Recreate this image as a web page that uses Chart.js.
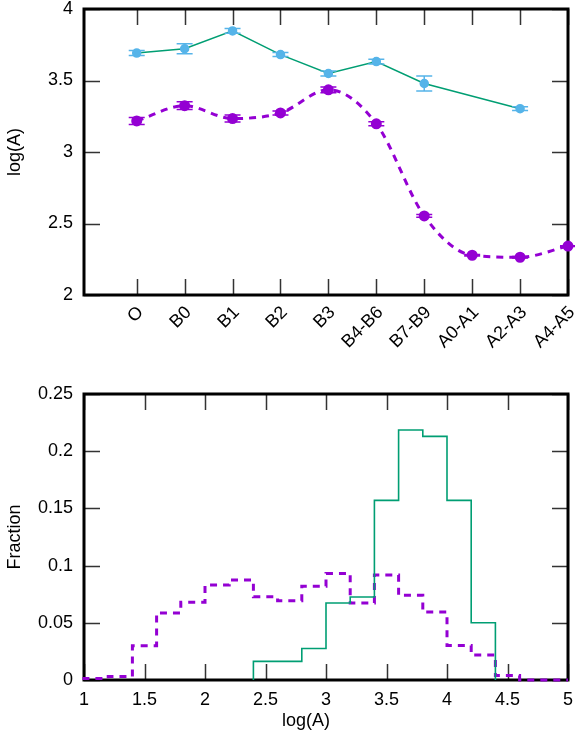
<!DOCTYPE html>
<html>
<head>
<meta charset="utf-8">
<script src="https://cdn.jsdelivr.net/npm/chart.js@4"></script>
<style>
  body { margin: 0; background: #fff; }
  #wrap { width: 575px; height: 742px; position: relative; }
  canvas { display: block; }
</style>
</head>
<body>
<div id="wrap">
  <canvas id="tiposEspectrales" width="575" height="375"></canvas>
  <canvas id="histograma" width="575" height="367"></canvas>
</div>
<script>
// tipos espectrales (eje x del panel superior)
const spectralTypes = ['O', 'B0', 'B1', 'B2', 'B3', 'B4-B6', 'B7-B9', 'A0-A1', 'A2-A3', 'A4-A5'];
// log(A) medio por tipo y su error
const logA1 = [3.692, 3.722, 3.847, 3.681, 3.549, 3.632, 3.479, null, 3.303, null];
const errA1 = [0.017, 0.035, 0.016, 0.014, 0.018, 0.017, 0.052, null, 0.013, null];
const logA2 = [3.217, 3.324, 3.234, 3.273, 3.435, 3.197, 2.553, 2.278, 2.264, 2.342];
const errA2 = [0.025, 0.027, 0.025, 0.014, 0.02, 0.014, 0.01, 0.005, 0.005, 0.003];

// histograma: borde izquierdo de cada bin (ancho 0.2)
const binWidth = 0.2;
const binEdges = [1.0, 1.2, 1.4, 1.6, 1.8, 2.0, 2.2, 2.4, 2.6, 2.8, 3.0, 3.2, 3.4, 3.6, 3.8, 4.0, 4.2, 4.4, 4.6, 4.8];
const frac1 = [null, null, null, null, null, null, null, 0.0163, 0.0163, 0.0276, 0.0673, 0.0726, 0.157, 0.2185, 0.213, 0.157, 0.0501, null, null, null];
const frac2 = [0.0014, 0.0031, 0.030, 0.0586, 0.068, 0.083, 0.0874, 0.0728, 0.0693, 0.082, 0.0932, 0.0673, 0.0918, 0.074, 0.0594, 0.0302, 0.0218, 0.004, 0, 0];

const verde = '#009e73';
const celeste = '#56b4e9';
const violeta = '#9400d3';
const familia = "'Liberation Sans', Arial, sans-serif";
const fuente = { family: familia, size: 18 };
const fuenteTitulo = { family: familia, size: 18 };
Chart.defaults.color = '#000';

// puntos con x numérica, saltando los huecos
function puntos(valores) {
    return valores.map((v, i) => ({ x: i, y: v })).filter(p => p.y !== null);
}

// escalones del histograma a partir de los bins
function escalones(valores) {
    const pts = [];
    let ultimo = null;
    valores.forEach((v, i) => {
        if (v === null) return;
        if (!pts.length) pts.push({ x: binEdges[i], y: 0 });
        pts.push({ x: binEdges[i], y: v });
        ultimo = i;
    });
    pts.push({ x: +(binEdges[ultimo] + binWidth).toFixed(1), y: 0 });
    return pts;
}

// quitar el relleno automático de las escalas
function sinPadding(scale) {
    scale.paddingLeft = 0;
    scale.paddingRight = 0;
    scale.paddingTop = 0;
    scale.paddingBottom = 0;
}

// marco negro y marcas hacia adentro, estilo gnuplot
const marco = {
    id: 'marco',
    beforeDatasetsDraw(chart) {
        const { ctx, chartArea: a, scales } = chart;
        const largo = 16;
        ctx.save();
        ctx.strokeStyle = '#333';
        ctx.lineWidth = 1.5;
        ctx.beginPath();
        scales.x.ticks.forEach(t => {
            const px = Math.round(scales.x.getPixelForValue(t.value)) + 0.5;
            ctx.moveTo(px, a.bottom); ctx.lineTo(px, a.bottom - largo);
            ctx.moveTo(px, a.top); ctx.lineTo(px, a.top + largo);
        });
        scales.y.ticks.forEach(t => {
            const py = Math.round(scales.y.getPixelForValue(t.value)) + 0.5;
            ctx.moveTo(a.left, py); ctx.lineTo(a.left + largo, py);
            ctx.moveTo(a.right, py); ctx.lineTo(a.right - largo, py);
        });
        ctx.stroke();
        ctx.strokeStyle = '#000';
        ctx.lineWidth = 3;
        ctx.strokeRect(a.left, a.top, a.width, a.height);
        ctx.restore();
    }
};

// barras de error verticales con tapas
const barrasError = {
    id: 'barrasError',
    afterDatasetsDraw(chart) {
        const { ctx, scales } = chart;
        chart.data.datasets.forEach(ds => {
            if (!ds.errores) return;
            ctx.save();
            ctx.strokeStyle = ds.pointBackgroundColor;
            ctx.lineWidth = 1.5;
            ds.fuente.forEach((v, i) => {
                if (v === null) return;
                const e = ds.errores[i];
                const px = scales.x.getPixelForValue(i);
                const y1 = scales.y.getPixelForValue(v - e);
                const y2 = scales.y.getPixelForValue(v + e);
                ctx.beginPath();
                ctx.moveTo(px, y1); ctx.lineTo(px, y2);
                ctx.moveTo(px - 8, y1); ctx.lineTo(px + 8, y1);
                ctx.moveTo(px - 8, y2); ctx.lineTo(px + 8, y2);
                ctx.stroke();
            });
            ctx.restore();
        });
    }
};

// título del eje x del histograma (centrado en la figura, no en el área)
const tituloX = {
    id: 'tituloX',
    afterDraw(chart, args, opts) {
        const { ctx } = chart;
        ctx.save();
        ctx.font = `${fuenteTitulo.size}px ${familia}`;
        ctx.fillStyle = '#000';
        ctx.textAlign = 'center';
        ctx.textBaseline = 'middle';
        ctx.fillText(opts.text, opts.x, opts.y);
        ctx.restore();
    }
};

const sinRejilla = { display: false, drawTicks: false };

/* panel superior: log(A) por tipo espectral */
new Chart(document.getElementById('tiposEspectrales'), {
    type: 'line',
    data: {
        datasets: [{
            data: puntos(logA1),
            fuente: logA1,
            errores: errA1,
            borderColor: verde,
            borderWidth: 1.5,
            pointBackgroundColor: celeste,
            pointBorderColor: celeste,
            pointRadius: 4,
            tension: 0,
            clip: false
        }, {
            data: puntos(logA2),
            fuente: logA2,
            errores: errA2,
            borderColor: violeta,
            borderWidth: 3,
            borderDash: [7, 6],
            pointBackgroundColor: violeta,
            pointBorderColor: violeta,
            pointRadius: 4,
            cubicInterpolationMode: 'monotone',
            clip: false
        }]
    },
    options: {
        responsive: false,
        animation: false,
        devicePixelRatio: 1,
        layout: { padding: { top: 9, right: 7, bottom: 0, left: 0 } },
        plugins: { legend: { display: false }, tooltip: { enabled: false } },
        scales: {
            x: {
                type: 'linear',
                min: -1.1,
                max: 9,
                grid: sinRejilla,
                border: { display: false },
                afterBuildTicks: scale => {
                    scale.ticks = spectralTypes.map((_, i) => ({ value: i }));
                },
                afterFit: scale => { scale.height = 80; sinPadding(scale); },
                ticks: {
                    autoSkip: false,
                    minRotation: 45,
                    maxRotation: 45,
                    padding: 7,
                    labelOffset: 4,
                    font: fuente,
                    callback: v => spectralTypes[v]
                }
            },
            y: {
                min: 2,
                max: 4,
                grid: sinRejilla,
                border: { display: false },
                afterFit: scale => { scale.width = 84; sinPadding(scale); },
                ticks: {
                    stepSize: 0.5,
                    padding: 11,
                    font: fuente,
                    callback: v => String(+v.toFixed(2))
                },
                title: { display: true, text: 'log(A)', font: fuenteTitulo, padding: { top: 4, bottom: 0 } }
            }
        }
    },
    plugins: [marco, barrasError]
});

/* panel inferior: distribución de log(A) */
new Chart(document.getElementById('histograma'), {
    type: 'line',
    data: {
        datasets: [{
            data: escalones(frac1),
            borderColor: verde,
            borderWidth: 1.6,
            stepped: 'before',
            pointRadius: 0,
            clip: false
        }, {
            data: escalones(frac2),
            borderColor: violeta,
            borderWidth: 3,
            borderDash: [7, 6],
            stepped: 'before',
            pointRadius: 0,
            clip: false
        }]
    },
    options: {
        responsive: false,
        animation: false,
        devicePixelRatio: 1,
        layout: { padding: { top: 19, right: 7, bottom: 0, left: 0 } },
        plugins: {
            legend: { display: false },
            tooltip: { enabled: false },
            tituloX: { text: 'log(A)', x: 306, y: 346 }
        },
        scales: {
            x: {
                type: 'linear',
                min: 1,
                max: 5,
                grid: sinRejilla,
                border: { display: false },
                afterFit: scale => { scale.height = 62; sinPadding(scale); },
                ticks: {
                    stepSize: 0.5,
                    padding: 9,
                    maxRotation: 0,
                    font: fuente,
                    callback: v => String(+v.toFixed(2))
                }
            },
            y: {
                min: 0,
                max: 0.25,
                grid: sinRejilla,
                border: { display: false },
                afterFit: scale => { scale.width = 84; sinPadding(scale); },
                ticks: {
                    stepSize: 0.05,
                    padding: 11,
                    font: fuente,
                    callback: v => String(+v.toFixed(2))
                },
                title: { display: true, text: 'Fraction', font: fuenteTitulo, padding: { top: 4, bottom: 0 } }
            }
        }
    },
    plugins: [marco, tituloX]
});
</script>
</body>
</html>
